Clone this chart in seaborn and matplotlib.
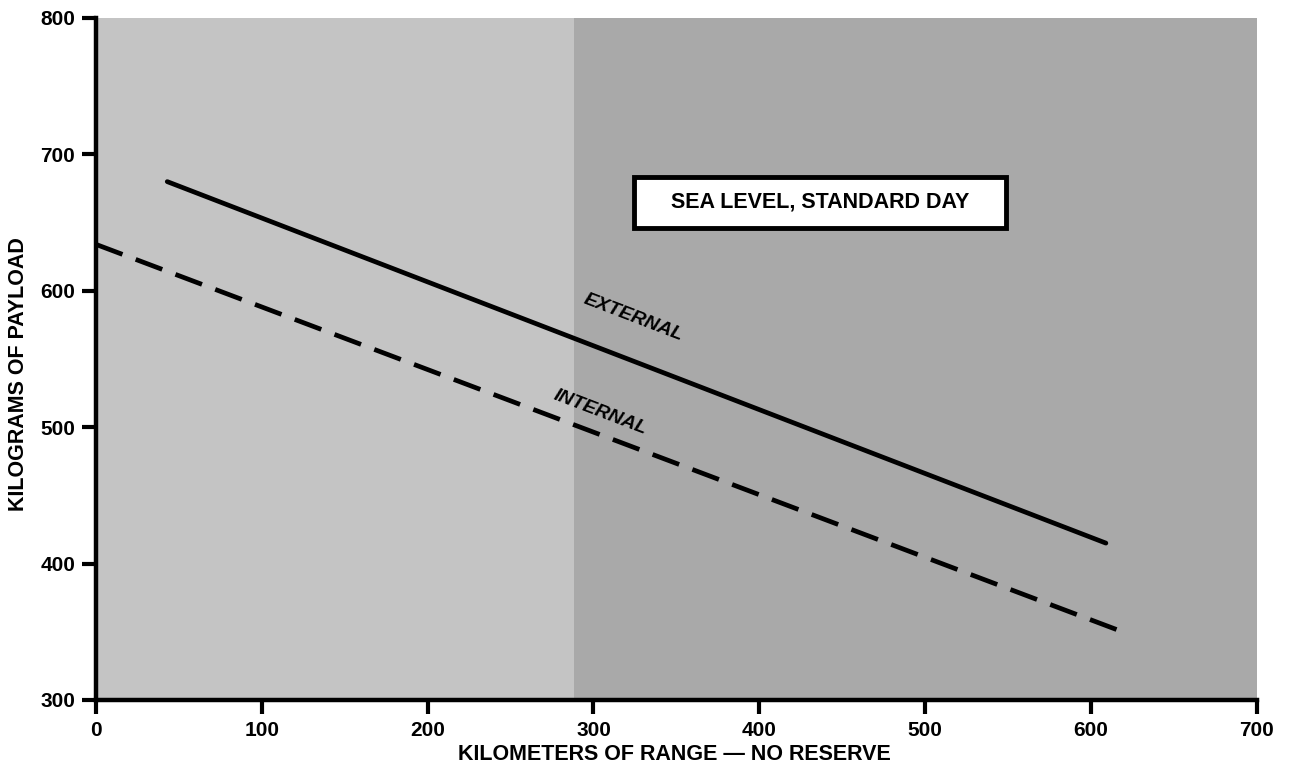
import matplotlib
matplotlib.use("Agg")
import matplotlib.pyplot as plt
from matplotlib.patches import Rectangle
import seaborn as sns
import pandas as pd

# range (km) vs payload (kg), sea level standard day
external_km = [43, 609]
external_kg = [680, 415]
internal_km = [0, 619]
internal_kg = [634, 350]

x_ticks = [0, 100, 200, 300, 400, 500, 600, 700]
y_ticks = [300, 400, 500, 600, 700, 800]

df = pd.concat([
    pd.DataFrame({"km": external_km, "kg": external_kg, "case": "EXTERNAL"}),
    pd.DataFrame({"km": internal_km, "kg": internal_kg, "case": "INTERNAL"}),
])

sns.set_style("white")
plt.rcParams["font.family"] = ["Liberation Sans", "DejaVu Sans"]
plt.rcParams["font.weight"] = "bold"
plt.rcParams["text.color"] = "black"
plt.rcParams["xtick.color"] = "black"
plt.rcParams["ytick.color"] = "black"
plt.rcParams["axes.labelcolor"] = "black"

fig = plt.figure(figsize=(12.93, 7.8), dpi=100)
ax = fig.add_axes([0.0742, 0.1026, 0.8978, 0.8744])

# shaded panels
ax.axvspan(0, 288, color="#c4c4c4", lw=0, zorder=0)
ax.axvspan(288, 700, color="#a9a9a9", lw=0, zorder=0)

sns.lineplot(data=df, x="km", y="kg", style="case",
             dashes={"EXTERNAL": "", "INTERNAL": (6, 3)},
             color="black", lw=3.4, legend=False, ax=ax, zorder=3)

ax.set_xlim(0, 700)
ax.set_ylim(300, 800)
ax.set_xticks(x_ticks)
ax.set_yticks(y_ticks)
ax.tick_params(axis="both", bottom=True, left=True, direction="out", length=10,
               width=3, labelsize=15, pad=5)
for lab in ax.get_xticklabels() + ax.get_yticklabels():
    lab.set_fontweight("bold")

for side in ["top", "right"]:
    ax.spines[side].set_visible(False)
for side in ["left", "bottom"]:
    ax.spines[side].set_linewidth(3.2)
    ax.spines[side].set_color("black")

ax.set_xlabel("KILOMETERS OF RANGE — NO RESERVE", fontsize=15.5, fontweight="bold")
ax.set_ylabel("KILOGRAMS OF PAYLOAD", fontsize=15.5, fontweight="bold")
ax.xaxis.set_label_coords(0.498, -0.064)
ax.yaxis.set_label_coords(-0.058, 0.478)

ax.text(324, 580, "EXTERNAL", rotation=-21, fontsize=14, fontweight="bold",
        fontstyle="italic", ha="center", va="center", zorder=4)
ax.text(304, 511, "INTERNAL", rotation=-21, fontsize=14, fontweight="bold",
        fontstyle="italic", ha="center", va="center", zorder=4)

ax.add_patch(Rectangle((0.4634, 0.692), 0.3204, 0.075, transform=ax.transAxes,
                       fc="white", ec="black", lw=3.5, zorder=5))
ax.text(0.6236, 0.7295, "SEA LEVEL, STANDARD DAY", transform=ax.transAxes,
        fontsize=15.5, fontweight="bold", ha="center", va="center", zorder=6)

fig.savefig("out.png", dpi=100)
